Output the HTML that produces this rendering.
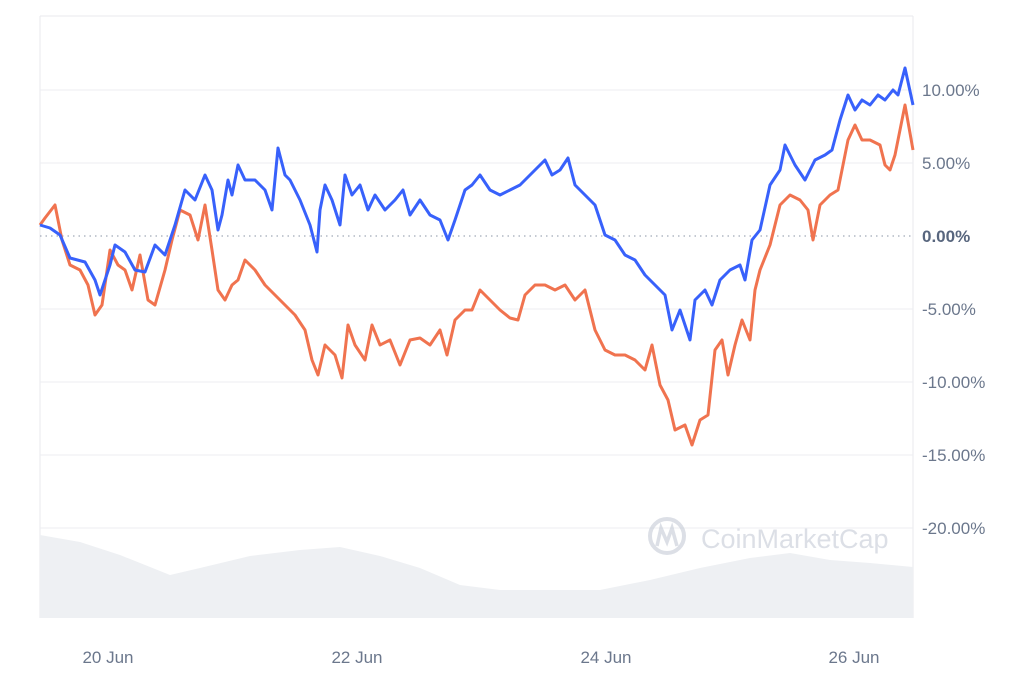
<!DOCTYPE html>
<html><head><meta charset="utf-8"><style>
body{margin:0;background:#fff;width:1024px;height:683px;overflow:hidden}
svg{display:block}
text{font-family:"Liberation Sans",sans-serif;fill:#6b778c;font-size:17px}
</style></head><body>
<svg width="1024" height="683" viewBox="0 0 1024 683">
<line x1="40" y1="16" x2="913" y2="16" stroke="#e8eaed"/>
<line x1="40" y1="16" x2="40" y2="618" stroke="#e8eaed"/>
<line x1="913" y1="16" x2="913" y2="618" stroke="#e8eaed"/>
<g stroke="#eceef1">
<line x1="40" y1="90" x2="913" y2="90"/><line x1="40" y1="163" x2="913" y2="163"/>
<line x1="40" y1="309" x2="913" y2="309"/><line x1="40" y1="382" x2="913" y2="382"/>
<line x1="40" y1="455" x2="913" y2="455"/><line x1="40" y1="528" x2="913" y2="528"/>
</g>
<line x1="40" y1="236" x2="913" y2="236" stroke="#8a94a6" stroke-dasharray="1.5,4"/>
<polygon fill="#eef0f3" points="40,535 80,542 120,555 170,575 200,568 250,556 300,550 340,547 380,556 420,568 460,585 500,590 600,590 650,580 700,568 750,558 790,553 830,560 870,563 913,567 913,618 40,618"/>
<g opacity="0.6">
<circle cx="667" cy="536" r="17" fill="none" stroke="#c5cbd6" stroke-width="4"/>
<path d="M657,546 L661,528 L667,542 L672,528 L677,546" fill="none" stroke="#c5cbd6" stroke-width="3.5"/>
<text x="701" y="548" style="font-size:27px;fill:#c5cbd6">CoinMarketCap</text>
</g>
<polyline fill="none" stroke="#f0734f" stroke-width="3" stroke-linejoin="round" points="40,225 45,218 55,205 62,240 70,265 80,270 88,285 95,315 102,305 110,250 118,265 125,270 132,290 140,255 148,300 155,305 165,270 172,240 180,210 190,215 198,240 205,205 212,250 218,290 225,300 232,285 238,280 245,260 255,270 265,285 275,295 285,305 295,315 305,330 312,360 318,375 325,345 335,355 342,378 348,325 355,345 365,360 372,325 380,345 390,340 400,365 410,340 420,338 430,345 440,330 447,355 455,320 465,310 472,310 480,290 490,300 500,310 510,318 518,320 525,295 535,285 545,285 555,290 565,285 575,300 585,290 595,330 605,350 615,355 625,355 635,360 645,370 652,345 660,385 668,400 675,430 685,425 692,445 700,420 708,415 715,350 722,340 728,375 735,345 742,320 750,340 755,290 760,270 770,245 780,205 790,195 800,200 808,210 813,240 820,205 830,195 838,190 848,140 855,125 862,140 870,140 880,145 885,165 890,170 895,155 905,105 913,150"/>
<polyline fill="none" stroke="#3861fb" stroke-width="3" stroke-linejoin="round" points="40,225 50,228 60,235 70,258 85,262 95,280 100,295 110,265 115,245 125,252 135,270 145,272 155,245 165,255 175,225 185,190 195,200 205,175 212,190 218,230 222,215 228,180 232,195 238,165 245,180 255,180 265,190 272,210 278,148 285,175 290,180 300,200 310,225 317,252 320,210 325,185 332,200 340,225 345,175 352,195 360,185 368,210 375,195 385,210 395,200 403,190 410,215 420,200 430,215 440,220 448,240 455,220 465,190 472,185 480,175 490,190 500,195 510,190 520,185 530,175 540,165 545,160 552,175 560,170 568,158 575,185 585,195 595,205 605,235 615,240 625,255 635,260 645,275 655,285 665,295 672,330 680,310 690,340 695,300 705,290 712,305 720,280 730,270 740,265 745,280 752,240 760,230 770,185 780,170 785,145 795,165 805,180 815,160 825,155 832,150 840,120 848,95 855,110 862,100 870,105 878,95 885,100 893,90 898,95 905,68 913,105"/>
<text x="922" y="96">10.00%</text>
<text x="922" y="169">5.00%</text>
<text x="922" y="242" style="font-weight:bold;fill:#58667e">0.00%</text>
<text x="922" y="315">-5.00%</text>
<text x="922" y="388">-10.00%</text>
<text x="922" y="461">-15.00%</text>
<text x="922" y="534">-20.00%</text>
<text x="108" y="663" text-anchor="middle">20 Jun</text>
<text x="357" y="663" text-anchor="middle">22 Jun</text>
<text x="606" y="663" text-anchor="middle">24 Jun</text>
<text x="854" y="663" text-anchor="middle">26 Jun</text>
</svg>
</body></html>
